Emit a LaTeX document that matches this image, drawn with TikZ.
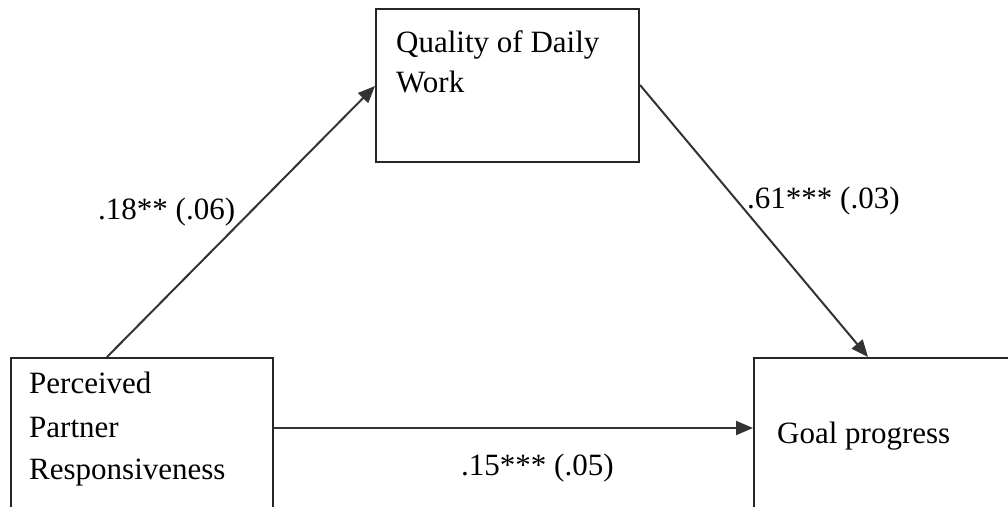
\documentclass[tikz,border=0pt]{standalone}
\usepackage{fontspec}
\setmainfont{Liberation Serif}
\usetikzlibrary{arrows.meta}
\begin{document}
\begin{tikzpicture}[x=1pt,y=-1pt,
  box/.style={draw=black!85,line width=2pt,inner sep=0pt},
  lbl/.style={inner sep=0pt,anchor=base west,font=\fontsize{31}{36}\selectfont},
  conn/.style={draw=black!80,line width=2pt,-{Triangle[length=17pt,width=14pt]}}]
\useasboundingbox (0,0) rectangle (1008,506);
\clip (0,0) rectangle (1008,506);
\fill[white] (0,0) rectangle (1008,506);
% boxes
\node[box,minimum width=263pt,minimum height=153pt,anchor=north west] (qdw) at (375,8) {};
\node[box,minimum width=262pt,minimum height=180pt,anchor=north west] (ppr) at (10,357) {};
\node[box,minimum width=270pt,minimum height=180pt,anchor=north west] (gp) at (753,357) {};
% texts
\node[lbl] (t1) at (396,52) {Quality of Daily};
\node[lbl] (t2) at (396,92) {Work};
\node[lbl] (t3) at (29,393) {Perceived};
\node[lbl] (t4) at (29,437) {Partner};
\node[lbl] (t5) at (29,479) {Responsiveness};
\node[lbl] (t6) at (777,443) {Goal progress};
% connector end points
\coordinate (a1) at ([xshift=97pt]ppr.north west);
\coordinate (a2) at ([yshift=-78pt]qdw.north west);
\coordinate (b1) at ([yshift=-77pt]qdw.north east);
\coordinate (b2) at ([xshift=115pt]gp.north west);
\coordinate (c1) at ([yshift=-71pt]ppr.north east);
\coordinate (c2) at ([yshift=-71pt]gp.north west);
\draw[conn] (a1) -- (a2);
\draw[conn] (b1) -- (b2);
\draw[conn] (c1) -- (c2);
% labels
\node[lbl] (l1) at (98,219) {.18** (.06)};
\node[lbl] (l2) at (747,208) {.61*** (.03)};
\node[lbl] (l3) at (461,475) {.15*** (.05)};
\end{tikzpicture}
\end{document}
